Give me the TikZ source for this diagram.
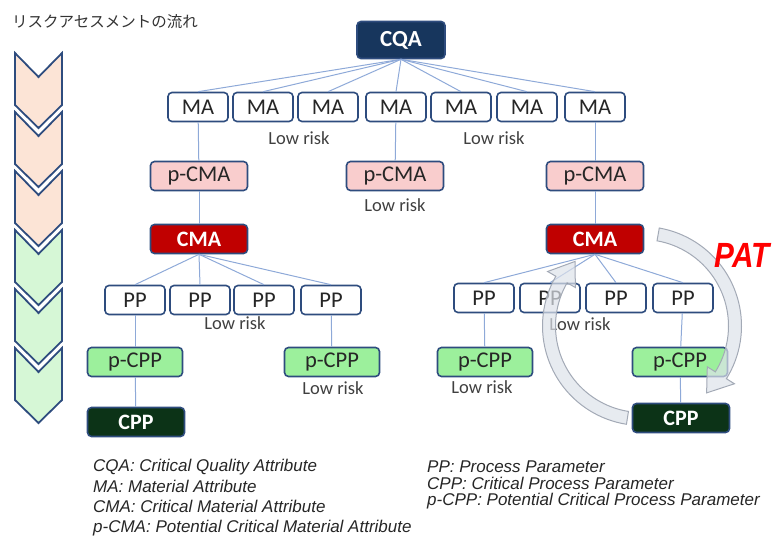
\documentclass[tikz,border=0pt]{standalone}
\usepackage{fontspec}
\setmainfont{Carlito}
\newfontfamily\jfont{Noto Sans CJK JP}
\newfontfamily\legfont{Liberation Sans}
\definecolor{boxblue}{HTML}{2E4C7E}
\definecolor{navy}{HTML}{17365D}
\definecolor{pinkfill}{HTML}{F9CDCD}
\definecolor{cmared}{HTML}{C00000}
\definecolor{greenfill}{HTML}{9CF09C}
\definecolor{darkgreen}{HTML}{0C3317}
\definecolor{linkblue}{HTML}{8EA9D8}
\definecolor{peach}{HTML}{FCE4D6}
\definecolor{mint}{HTML}{D6F7D6}
\definecolor{txtgray}{HTML}{404040}
\definecolor{patgray}{HTML}{DDE2EA}
\definecolor{patedge}{HTML}{A3AAB6}
\begin{document}
\begin{tikzpicture}[x=1pt,y=-1pt,
  box/.style={draw=boxblue, line width=1.6pt, rounded corners=4pt, minimum height=29pt, inner sep=0pt, font=\fontsize{22.5}{22.5}\selectfont, text=black!85},
  ma/.style={box, fill=white, minimum width=60pt},
  pcma/.style={box, fill=pinkfill, minimum width=97pt},
  cma/.style={box, fill=cmared, minimum width=97pt, text=white, font=\fontsize{22}{22}\selectfont\bfseries},
  cqa/.style={box, fill=navy, minimum width=88pt, minimum height=37pt, text=white, font=\fontsize{23}{23}\selectfont\bfseries},
  pcpp/.style={box, fill=greenfill, minimum width=95pt},
  cpp/.style={box, fill=darkgreen, minimum width=97pt, text=white, font=\fontsize{22}{22}\selectfont\bfseries},
  lowrisk/.style={inner sep=0pt, text=txtgray, font=\fontsize{18.5}{18.5}\selectfont},
  conn/.style={draw=linkblue, line width=1pt},
  chev/.style={draw=boxblue, line width=1.8pt, line join=miter},
  leg/.style={anchor=base west, inner sep=0pt, text=black!85, font=\legfont\itshape\fontsize{17}{17}\selectfont},
  patarrow/.style={fill=patgray, fill opacity=0.7, draw=patedge, line width=1pt}
]
\useasboundingbox (0,0) rectangle (776,537);

% title
\node[anchor=west, inner sep=0pt, text=black!80, font=\jfont\fontsize{15.5}{15.5}\selectfont] (title) at (12,22) {リスクアセスメントの流れ};

% chevrons
\foreach \i/\c in {0/peach,1/peach,2/peach,3/mint,4/mint,5/mint}{
  \pgfmathsetmacro{\yy}{53+59*\i}
  \draw[chev, fill=\c] (15,\yy) -- (38.5,\yy+24) -- (62,\yy) -- (62,\yy+52) -- (38.5,\yy+75) -- (15,\yy+52) -- cycle;
}

% nodes
\node[cqa] (cqa) at (401,40) {CQA};
\foreach \n/\x in {1/198,2/263,3/328,4/396,5/461,6/527,7/595}{
  \node[ma] (ma\n) at (\x,107) {MA};
}
\node[lowrisk] (lr1) at (299,138) {Low risk};
\node[lowrisk] (lr2) at (494,138) {Low risk};

\node[pcma] (pcma1) at (199,176) {p-CMA};
\node[pcma] (pcma2) at (395,176) {p-CMA};
\node[pcma] (pcma3) at (595,176) {p-CMA};
\node[lowrisk] (lr3) at (395,205) {Low risk};

\node[cma] (cma1) at (199,239) {CMA};
\node[cma] (cma2) at (595,239) {CMA};

\foreach \n/\x in {1/135,2/200,3/264,4/331}{
  \node[ma] (ppl\n) at (\x,300) {PP};
}
\node[lowrisk] (lr4) at (235,323) {Low risk};
\node[pcpp] (pcppl1) at (135,362) {p-CPP};
\node[pcpp] (pcppl2) at (332,362) {p-CPP};
\node[lowrisk] (lr5) at (333,388) {Low risk};
\node[cpp] (cppl) at (136,422) {CPP};

\foreach \n/\x in {1/484,2/550,3/616,4/683}{
  \node[ma] (ppr\n) at (\x,298) {PP};
}
\node[lowrisk] (lr6) at (580,324) {Low risk};
\node[pcpp] (pcppr1) at (485,362) {p-CPP};
\node[pcpp] (pcppr2) at (680,362) {p-CPP};
\node[lowrisk] (lr7) at (482,387) {Low risk};
\node[cpp] (cppr) at (681,418) {CPP};

% connectors
\foreach \n in {1,...,7}{ \draw[conn] (cqa.south) -- (ma\n.north); }
\draw[conn] (ma1) -- (pcma1);
\draw[conn] (ma4) -- (pcma2);
\draw[conn] (ma7) -- (pcma3);
\draw[conn] (pcma1) -- (cma1);
\draw[conn] (pcma3) -- (cma2);
\foreach \n in {1,...,4}{ \draw[conn] (cma1.south) -- (ppl\n.north); }
\foreach \n in {1,...,4}{ \draw[conn] (cma2.south) -- (ppr\n.north); }
\draw[conn] (ppl1) -- (pcppl1);
\draw[conn] (pcppl1) -- (cppl);
\draw[conn] (ppl4) -- (pcppl2);
\draw[conn] (ppr1) -- (pcppr1);
\draw[conn] (ppr4) -- (pcppr2);
\draw[conn] (pcppr2) -- (cppr);

% PAT cycle arrows
\filldraw[patarrow] plot[domain=-80:32,samples=40] ({642+99.5*cos(\x)},{326+99.5*sin(\x)})
  -- ({642+109*cos(32)},{326+109*sin(32)})
  -- ({642+93*cos(46)},{326+93*sin(46)})
  -- ({642+77*cos(32)},{326+77*sin(32)})
  -- plot[domain=32:-80,samples=40] ({642+86.5*cos(\x)},{326+86.5*sin(\x)}) -- cycle;
\filldraw[patarrow] plot[domain=99:210,samples=40] ({642+99.5*cos(\x)},{326+99.5*sin(\x)})
  -- ({642+109*cos(210)},{326+109*sin(210)})
  -- ({642+93*cos(224)},{326+93*sin(224)})
  -- ({642+77*cos(210)},{326+77*sin(210)})
  -- plot[domain=210:99,samples=40] ({642+86.5*cos(\x)},{326+86.5*sin(\x)}) -- cycle;
\node[inner sep=0pt, text=red, xscale=0.85, font=\legfont\bfseries\itshape\fontsize{35}{35}\selectfont] (pat) at (742,255) {PAT};

% legend
\node[leg] (l1) at (93,471) {CQA: Critical Quality Attribute};
\node[leg] (l2) at (93,492) {MA: Material Attribute};
\node[leg] (l3) at (93,512) {CMA: Critical Material Attribute};
\node[leg] (l4) at (93,532) {p-CMA: Potential Critical Material Attribute};
\node[leg] (r1) at (427,472) {PP: Process Parameter};
\node[leg] (r2) at (427,489) {CPP: Critical Process Parameter};
\node[leg] (r3) at (427,505) {p-CPP: Potential Critical Process Parameter};
\end{tikzpicture}
\end{document}
